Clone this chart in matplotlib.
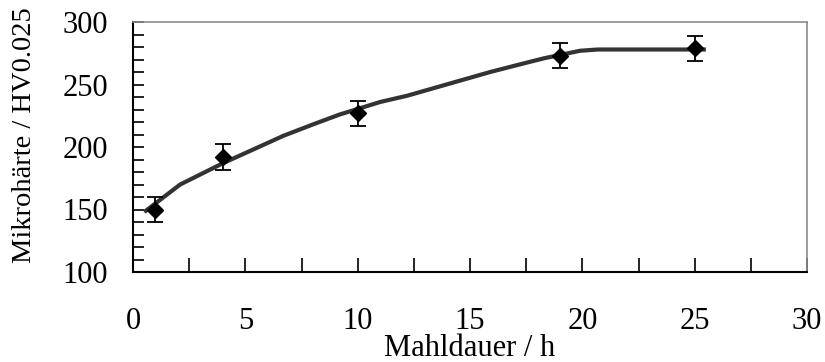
import matplotlib
matplotlib.use("Agg")
import matplotlib.pyplot as plt
from matplotlib.ticker import MultipleLocator

# Measured hardness vs. milling time
mill_hours = [1, 4, 10, 19, 25]
hardness = [150, 192, 227, 273, 279]
hardness_err = [10, 10.5, 10, 10, 10]

# Trend line through the measurements
trend_hours = [0.5, 2.1, 4.0, 6.7, 8.0, 9.2, 11.0, 12.2, 15.9, 17.2, 18.3, 19.9, 20.7, 25.5]
trend_hardness = [148, 170, 187, 209, 218, 226, 236, 241, 260, 266, 271, 277, 278, 278]

x_ticks = [0, 5, 10, 15, 20, 25, 30]
y_ticks = [100, 150, 200, 250, 300]

plt.rcParams["font.family"] = ["Liberation Serif", "DejaVu Serif"]
FS = 22

fig = plt.figure(figsize=(8.25, 3.62), dpi=100)
ax = fig.add_axes([133 / 825, 1 - 272 / 362, (807 - 133) / 825, (272 - 22) / 362])

ax.plot(trend_hours, trend_hardness, color="#333333", lw=3.0, solid_capstyle="butt", zorder=2)
ax.errorbar(mill_hours, hardness, yerr=hardness_err, fmt="D", color="black",
            ms=8, capsize=6, elinewidth=1.3, capthick=1.3, zorder=3)

ax.set_xlim(0, 30)
ax.set_ylim(100, 300)
ax.set_xticks(x_ticks)
ax.xaxis.set_minor_locator(MultipleLocator(2.5))
ax.set_yticks(y_ticks)
ax.yaxis.set_minor_locator(MultipleLocator(10))

ax.tick_params(axis="x", which="both", direction="in", length=10, width=1.2,
               pad=25, labelsize=FS)
ax.tick_params(axis="y", which="both", direction="in", length=8, width=1.2,
               pad=18, labelsize=FS)

for side in ("left", "bottom"):
    ax.spines[side].set_color("black")
    ax.spines[side].set_linewidth(1.5)
for side in ("top", "right"):
    ax.spines[side].set_color("#8c8c8c")
    ax.spines[side].set_linewidth(1.2)

ax.set_xlabel("Mahldauer / h", fontsize=FS, va="center")
ax.xaxis.set_label_coords(0.5, (272 - 349) / 250)
ax.set_ylabel("Mikrohärte / HV0.025", fontsize=20.5, va="center")
ax.yaxis.set_label_coords((25 - 133) / 674, (272 - 135) / 250)

fig.savefig("out.png", dpi=100)
